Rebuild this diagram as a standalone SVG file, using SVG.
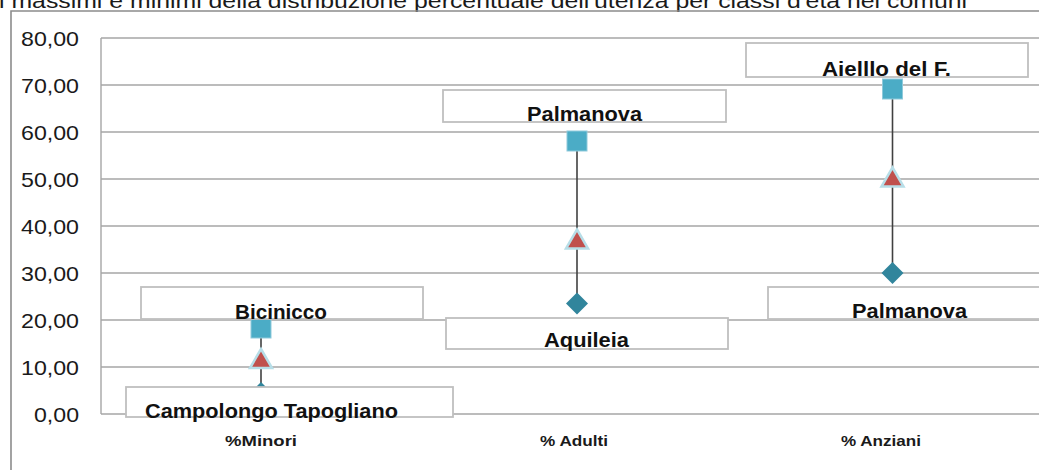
<svg xmlns="http://www.w3.org/2000/svg" xmlns:xlink="http://www.w3.org/1999/xlink" width="1039" height="470" viewBox="0 0 1039 470">
<style>
.frame{stroke:#8c8c8c;stroke-width:1.6;fill:none}
.grid{stroke:#a6a6a6;stroke-width:1.4;fill:none}
.ytick{font-family:"Liberation Sans",Arial,sans-serif;font-size:21px;fill:#1a1a1a;text-anchor:end}
.title{font-family:"Liberation Sans",Arial,sans-serif;font-size:20px;fill:#1a1a1a}
.cat{font-family:"Liberation Sans",Arial,sans-serif;font-size:15px;font-weight:bold;fill:#1a1a1a;text-anchor:middle}
.box{fill:#ffffff;stroke:#bfbfbf;stroke-width:1.8}
.lbl{font-family:"Liberation Sans",Arial,sans-serif;font-size:20px;font-weight:bold;fill:#111111;text-anchor:middle}
.hl{stroke:#404040;stroke-width:1.6;fill:none}
</style>
<defs>
<g id="sq"><rect x="-10" y="-10" width="20" height="20" fill="#4bacc6" stroke="#8fcadb" stroke-width="1"/></g>
<g id="tri"><path d="M0,-10 L11,9 L-11,9 Z" fill="#c0504d" stroke="#b7dee8" stroke-width="2.5" stroke-linejoin="miter"/></g>
<g id="dia"><path d="M0,-11 L11,0 L0,11 L-11,0 Z" fill="#31859c"/></g>
</defs>
<rect x="0" y="0" width="1039" height="470" fill="#ffffff"/>
<text class="title" x="-1" y="8" textLength="968" lengthAdjust="spacingAndGlyphs">i massimi e minimi della distribuzione percentuale dell'utenza per classi d'età nei comuni</text>
<path class="frame" d="M11,470 V11 H1039"/>
<g id="grid">
<path class="grid" d="M101,38 H1039 M101,85 H1039 M101,132 H1039 M101,179 H1039 M101,226 H1039 M101,273 H1039 M101,320 H1039 M101,367 H1039 M101,414 H1039 M101,38 V414"/>
</g>
<g id="yaxis">
<text class="ytick" x="79" y="45.5" textLength="58" lengthAdjust="spacingAndGlyphs">80,00</text>
<text class="ytick" x="79" y="92.5" textLength="58" lengthAdjust="spacingAndGlyphs">70,00</text>
<text class="ytick" x="79" y="139.5" textLength="58" lengthAdjust="spacingAndGlyphs">60,00</text>
<text class="ytick" x="79" y="186.5" textLength="58" lengthAdjust="spacingAndGlyphs">50,00</text>
<text class="ytick" x="79" y="233.5" textLength="58" lengthAdjust="spacingAndGlyphs">40,00</text>
<text class="ytick" x="79" y="280.5" textLength="58" lengthAdjust="spacingAndGlyphs">30,00</text>
<text class="ytick" x="79" y="327.5" textLength="58" lengthAdjust="spacingAndGlyphs">20,00</text>
<text class="ytick" x="79" y="374.5" textLength="58" lengthAdjust="spacingAndGlyphs">10,00</text>
<text class="ytick" x="79" y="421.5" textLength="45" lengthAdjust="spacingAndGlyphs">0,00</text>
</g>
<g id="xaxis">
<text class="cat" x="261" y="446" textLength="72" lengthAdjust="spacingAndGlyphs">%Minori</text>
<text class="cat" x="574" y="446" textLength="68" lengthAdjust="spacingAndGlyphs">% Adulti</text>
<text class="cat" x="881" y="446" textLength="80" lengthAdjust="spacingAndGlyphs">% Anziani</text>
</g>
<g id="connectors">
<line class="hl" x1="261" y1="328" x2="261" y2="393"/>
<line class="hl" x1="577" y1="141" x2="577" y2="303.5"/>
<line class="hl" x1="892.5" y1="89" x2="892.5" y2="273"/>
</g>
<g id="minori">
<use xlink:href="#sq" x="261" y="328"/>
<use xlink:href="#tri" x="261" y="359"/>
<use xlink:href="#dia" x="261" y="393"/>
</g>
<g id="adulti">
<use xlink:href="#sq" x="577" y="141"/>
<use xlink:href="#tri" x="577" y="239.5"/>
<use xlink:href="#dia" x="577" y="303.5"/>
</g>
<g id="anziani">
<use xlink:href="#sq" x="892.5" y="89"/>
<use xlink:href="#tri" x="892.5" y="177.5"/>
<use xlink:href="#dia" x="892.5" y="273"/>
</g>
<g id="label-bicinicco">
<rect class="box" x="141" y="287" width="282" height="32"/>
<text class="lbl" x="281" y="319" textLength="92" lengthAdjust="spacingAndGlyphs">Bicinicco</text>
</g>
<g id="label-campolongo">
<rect class="box" x="126" y="387" width="327" height="30"/>
<text class="lbl" x="271.5" y="418" textLength="253" lengthAdjust="spacingAndGlyphs">Campolongo Tapogliano</text>
</g>
<g id="label-palmanova-adulti">
<rect class="box" x="443" y="90" width="283" height="32"/>
<text class="lbl" x="584.5" y="121" textLength="115" lengthAdjust="spacingAndGlyphs">Palmanova</text>
</g>
<g id="label-aquileia">
<rect class="box" x="446" y="318" width="282" height="31"/>
<text class="lbl" x="586.5" y="347" textLength="85" lengthAdjust="spacingAndGlyphs">Aquileia</text>
</g>
<g id="label-aiello">
<rect class="box" x="746" y="43" width="282" height="34"/>
<text class="lbl" x="886.5" y="76" textLength="129" lengthAdjust="spacingAndGlyphs">Aielllo del F.</text>
</g>
<g id="label-palmanova-anziani">
<rect class="box" x="768" y="287" width="290" height="32"/>
<text class="lbl" x="909.5" y="318" textLength="115" lengthAdjust="spacingAndGlyphs">Palmanova</text>
</g>
</svg>
